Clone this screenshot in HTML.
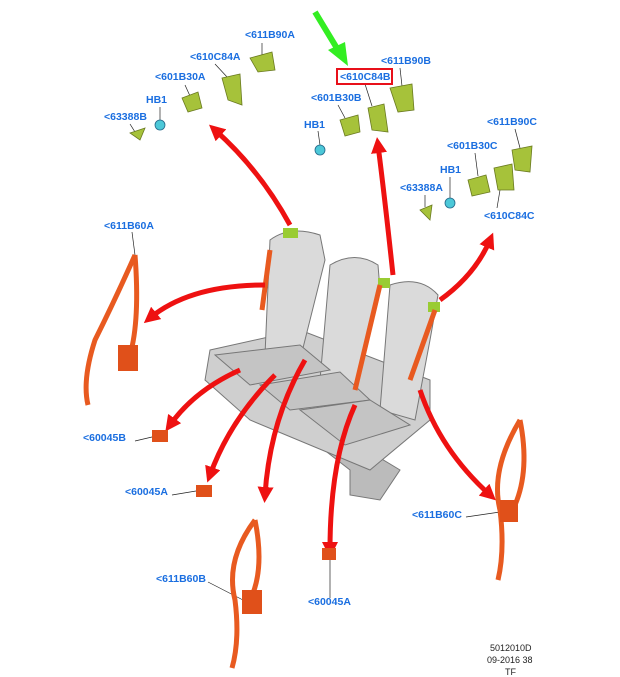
<!DOCTYPE html>
<html><head><meta charset="utf-8"><style>
html,body{margin:0;padding:0;background:#fff;}
svg{display:block;}
.l{font-family:"Liberation Sans",sans-serif;font-size:10.5px;font-weight:bold;fill:#1a6ee0;}
.k{font-family:"Liberation Sans",sans-serif;font-size:9px;fill:#222;}
</style></head><body>
<svg width="620" height="677" viewBox="0 0 620 677" xmlns="http://www.w3.org/2000/svg">
<defs>
<marker id="ar" markerWidth="3.2" markerHeight="3.2" refX="1.6" refY="1.6" orient="auto" markerUnits="strokeWidth"><path d="M0,0 L3.2,1.6 L0,3.2 Z" fill="#ee1111"/></marker>
</defs>
<!-- seat -->
<g fill="#dadada" stroke="#777" stroke-width="1">
<path d="M260,400 L350,470 L350,495 L380,500 L400,470 L350,440 Z" fill="#bbb"/>
<path d="M210,350 L300,330 L430,380 L430,420 L370,470 L250,420 L205,380 Z" fill="#cfcfcf"/>
<path d="M270,240 Q290,225 320,235 L325,260 L300,360 L265,355 Z"/>
<path d="M330,265 Q355,250 378,265 L380,290 L355,390 L320,380 Z"/>
<path d="M390,285 Q420,275 438,295 L430,340 L415,420 L380,410 Z"/>
<path d="M215,355 L300,345 L330,370 L250,385 Z" fill="#c4c4c4"/>
<path d="M260,385 L340,372 L370,400 L290,410 Z" fill="#c4c4c4"/>
<path d="M300,410 L370,400 L410,425 L345,445 Z" fill="#c4c4c4"/>
</g>
<rect x="283" y="228" width="15" height="10" fill="#9c3"/>
<rect x="378" y="278" width="12" height="10" fill="#9c3"/>
<rect x="428" y="302" width="12" height="10" fill="#9c3"/>
<g stroke="#e85a20" stroke-width="5" fill="none">
<path d="M270,250 L262,310"/><path d="M380,285 L355,390"/><path d="M435,310 L410,380"/>
</g>
<!-- red arrows -->
<g stroke="#ee1111" stroke-width="5" fill="none" marker-end="url(#ar)">
<path d="M290,225 Q260,170 215,130"/>
<path d="M393,275 Q385,200 378,145"/>
<path d="M440,300 Q475,275 490,240"/>
<path d="M265,285 Q190,285 150,318"/>
<path d="M240,370 Q195,390 170,425"/>
<path d="M275,375 Q230,420 210,475"/>
<path d="M305,360 Q270,420 265,495"/>
<path d="M355,405 Q330,460 330,550"/>
<path d="M420,390 Q440,450 490,495"/>
</g>
<!-- green arrow -->
<path d="M315,12 L338,50" stroke="#33ee22" stroke-width="6"/>
<path d="M328,50 L348,66 L345,42 Z" fill="#33ee22"/>
<!-- leader lines -->
<g stroke="#222" stroke-width="0.7" fill="none">
<path d="M262,43 L262,56"/><path d="M215,64 L228,78"/><path d="M185,85 L190,96"/>
<path d="M160,107 L160,120"/><path d="M130,124 L135,132"/><path d="M365,84 L372,106"/>
<path d="M400,68 L402,86"/><path d="M338,105 L345,118"/><path d="M318,131 L320,145"/>
<path d="M515,129 L520,148"/><path d="M475,153 L478,176"/><path d="M450,177 L450,198"/>
<path d="M425,195 L425,207"/><path d="M497,208 L500,190"/><path d="M132,232 L135,255"/>
<path d="M135,441 L152,437"/><path d="M172,495 L196,491"/><path d="M466,517 L500,512"/>
<path d="M208,582 L243,600"/><path d="M330,598 L330,560"/>
</g>
<!-- small parts -->
<g fill="#a6c23a" stroke="#6a7a20" stroke-width="0.8">
<path d="M250,58 L272,52 L275,70 L258,72 Z"/><path d="M222,78 L240,74 L242,105 L228,100 Z"/>
<path d="M182,98 L198,92 L202,108 L188,112 Z"/><path d="M130,133 L145,128 L140,140 Z"/>
<path d="M390,88 L412,84 L414,110 L398,112 Z"/><path d="M368,108 L384,104 L388,132 L372,130 Z"/>
<path d="M340,120 L358,115 L360,132 L345,136 Z"/>
<path d="M512,150 L532,146 L530,172 L515,170 Z"/><path d="M494,168 L512,164 L514,190 L498,190 Z"/>
<path d="M468,180 L486,175 L490,192 L472,196 Z"/><path d="M420,210 L432,205 L430,220 Z"/>
</g>
<g fill="#4cc8d8" stroke="#268" stroke-width="0.8">
<circle cx="160" cy="125" r="5"/><circle cx="320" cy="150" r="5"/><circle cx="450" cy="203" r="5"/>
</g>
<!-- belts -->
<g stroke="#e85a20" stroke-width="5" fill="none">
<path d="M135,255 Q115,300 95,340 Q82,380 88,405"/><path d="M135,255 Q140,320 130,355"/>
<path d="M255,520 Q225,560 235,600 Q240,640 232,668"/><path d="M255,520 Q265,570 250,600"/>
<path d="M520,420 Q490,470 500,510 Q505,550 498,580"/><path d="M520,420 Q530,470 515,505"/>
</g>
<g fill="#e0501a">
<rect x="118" y="345" width="20" height="26"/><rect x="242" y="590" width="20" height="24"/><rect x="500" y="500" width="18" height="22"/>
<rect x="152" y="430" width="16" height="12"/><rect x="196" y="485" width="16" height="12"/><rect x="322" y="548" width="14" height="12"/>
</g>
<!-- labels -->
<text class="l" x="245" y="38">&lt;611B90A</text>
<text class="l" x="190" y="60">&lt;610C84A</text>
<text class="l" x="155" y="80">&lt;601B30A</text>
<text class="l" x="146" y="103">HB1</text>
<text class="l" x="104" y="120">&lt;63388B</text>
<rect x="337" y="69" width="55" height="15" fill="none" stroke="#e8101a" stroke-width="2"/>
<text class="l" x="340" y="80">&lt;610C84B</text>
<text class="l" x="381" y="64">&lt;611B90B</text>
<text class="l" x="311" y="101">&lt;601B30B</text>
<text class="l" x="304" y="128">HB1</text>
<text class="l" x="487" y="125">&lt;611B90C</text>
<text class="l" x="447" y="149">&lt;601B30C</text>
<text class="l" x="440" y="173">HB1</text>
<text class="l" x="400" y="191">&lt;63388A</text>
<text class="l" x="484" y="219">&lt;610C84C</text>
<text class="l" x="104" y="229">&lt;611B60A</text>
<text class="l" x="83" y="441">&lt;60045B</text>
<text class="l" x="125" y="495">&lt;60045A</text>
<text class="l" x="412" y="518">&lt;611B60C</text>
<text class="l" x="156" y="582">&lt;611B60B</text>
<text class="l" x="308" y="605">&lt;60045A</text>
<text class="k" x="490" y="651">5012010D</text>
<text class="k" x="487" y="663">09-2016 38</text>
<text class="k" x="505" y="675">TF</text>
</svg>
</body></html>
